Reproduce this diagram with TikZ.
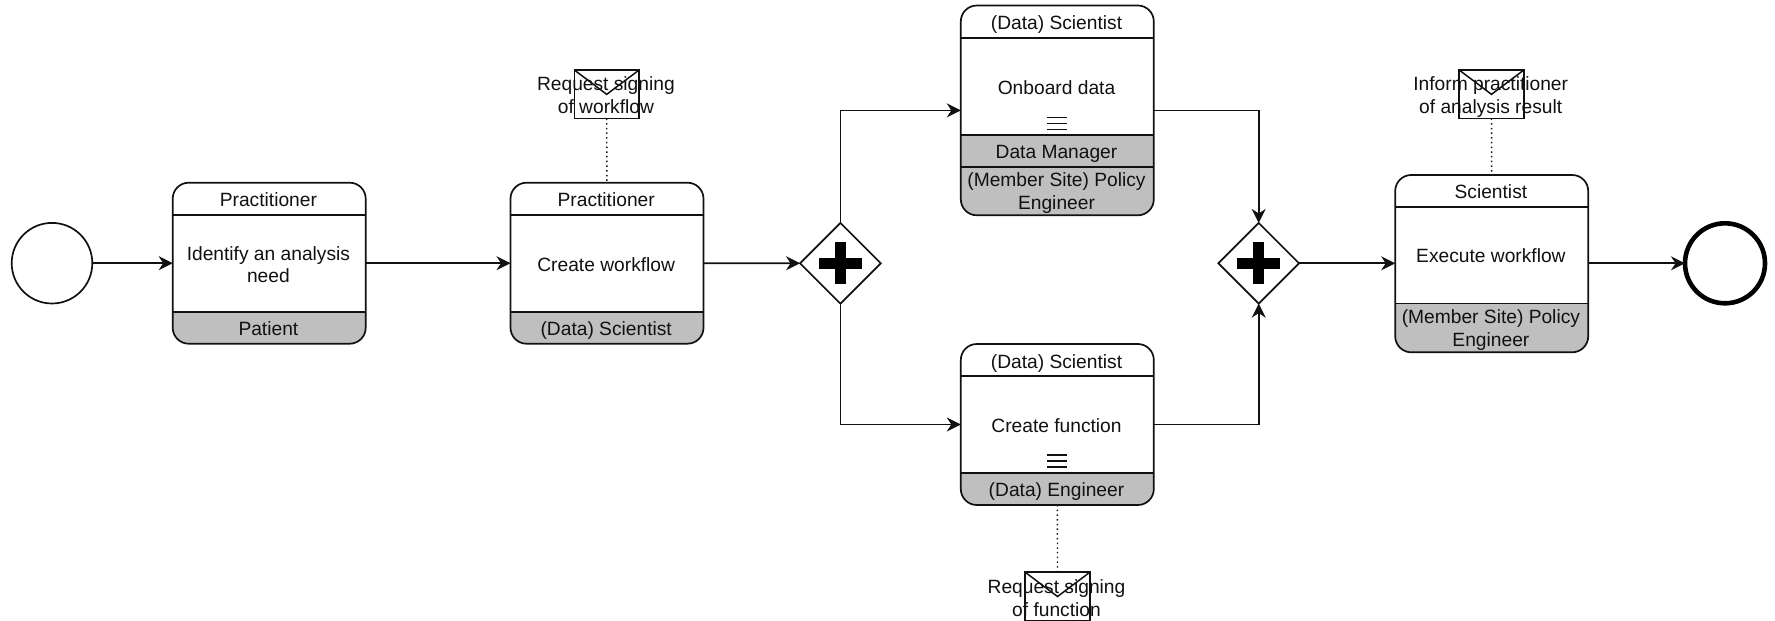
\documentclass[tikz,border=0pt]{standalone}
\usepackage{fontspec}
\setmainfont{Liberation Sans}
\usetikzlibrary{arrows.meta,shapes.geometric,calc}
\definecolor{footgray}{HTML}{BFBFBF}
\definecolor{ink}{HTML}{111111}
\tikzset{
  line/.style={draw=ink,line width=1.7pt},
  flow/.style={line,-{Stealth[length=14pt,width=14pt,inset=4.5pt]},line join=miter},
  assoc/.style={draw=ink,line width=1.4pt,dash pattern=on 1.5pt off 3.2pt},
  label/.style={font=\fontsize{19.2pt}{22.6pt}\selectfont,align=center,inner sep=0pt,outer sep=0pt,text=ink,xshift=-0.8pt},
  taskbox/.style={line,rectangle,rounded corners=16pt,minimum width=193pt,inner sep=0pt,outer sep=0pt},
  gateway/.style={line,diamond,minimum width=80.7pt,minimum height=80.7pt,inner sep=0pt,outer sep=0pt,fill=white},
  plusbar/.style={fill=black,draw=none,rectangle,inner sep=0pt,outer sep=0pt},
  envelope/.style={line,rectangle,minimum width=64.6pt,minimum height=48.3pt,inner sep=0pt,outer sep=0pt},
  startev/.style={line,circle,minimum size=80.6pt,inner sep=0pt,outer sep=0pt},
  endev/.style={draw=black,line width=4.6pt,circle,minimum size=80pt,inner sep=0pt,outer sep=0pt},
}
% #1 name, #2 centre x, #3 top, #4 bottom, #5 header line y, #6 footer line y
\newcommand{\taskshape}[6]{%
  \pgfmathsetmacro{\tcy}{(#3+#4)/2}%
  \pgfmathsetmacro{\thh}{#4-#3}%
  \begin{scope}
    \path[clip,rounded corners=16pt] (#2-96.5,#3) rectangle (#2+96.5,#4);
    \fill[footgray] (#2-96.5,#6) rectangle (#2+96.5,#4);
  \end{scope}
  \node[taskbox,minimum height=\thh pt] (#1) at (#2,\tcy) {};
  \draw[line] (#2-96.5,#5) -- (#2+96.5,#5);
  \draw[line] (#2-96.5,#6) -- (#2+96.5,#6);
}
% #1 name, #2 centre x, #3 centre y
\newcommand{\gatewayshape}[3]{%
  \node[gateway] (#1) at (#2,#3) {};
  \node[plusbar,minimum width=42.5pt,minimum height=11.5pt] (#1h) at (#2,#3) {};
  \node[plusbar,minimum width=11.5pt,minimum height=42pt] (#1v) at (#2,#3) {};
}
% #1 name, #2 centre x, #3 centre y
\newcommand{\envshape}[3]{%
  \node[envelope] (#1) at (#2,#3) {};
  \draw[line,line width=1.5pt] (#1.north west) -- ($(#1.north)+(0,24.3)$) -- (#1.north east);
}
% #1 centre x, #2 y
\newcommand{\loopmarker}[2]{%
  \draw[line,line width=1.2pt] (#1-10,#2) -- (#1+10,#2) (#1-10,#2+6) -- (#1+10,#2+6) (#1-10,#2+12) -- (#1+10,#2+12);
}
\begin{document}
\begin{tikzpicture}[x=1pt,y=-1pt]
\useasboundingbox (0,0) rectangle (1775,621);
\fill[white] (0,0) rectangle (1775,621);

\node[startev] (start) at (52,263.2) {};
\node[endev] (end) at (1725,263.3) {};

\taskshape{t1}{269.2}{182.7}{343.7}{215}{312}
\node[label] (t1a) at (269.2,200) {Practitioner};
\node[label] (t1b) at (269.2,264.5) {Identify an analysis\\need};
\node[label] (t1c) at (269.2,328.5) {Patient};

\taskshape{t2}{607}{182.7}{343.7}{215}{312}
\node[label] (t2a) at (607,200) {Practitioner};
\node[label] (t2b) at (607,265) {Create workflow};
\node[label] (t2c) at (607,330.5) {(Data) Scientist};

\taskshape{t3}{1057.3}{5.5}{215.3}{37.7}{134.7}
\node[label] (t3a) at (1057.3,24.8) {(Data) Scientist};
\node[label] (t3b) at (1057.3,87.5) {Onboard data};
\loopmarker{1057.3}{117.3}
\node[label] (t3c) at (1057.3,153.5) {Data Manager};
\draw[line] (961,166.7) -- (1153.7,166.7);
\node[label] (t3d) at (1057.3,193.3) {(Member Site) Policy\\Engineer};

\taskshape{t4}{1057.3}{344}{505}{375.7}{472.7}
\node[label] (t4a) at (1057.3,363.3) {(Data) Scientist};
\node[label] (t4b) at (1057.3,425.5) {Create function};
\loopmarker{1057.3}{455}
\node[label] (t4c) at (1057.3,491.8) {(Data) Engineer};

\taskshape{t5}{1491.7}{175}{352.3}{207}{303.5}
\node[label] (t5a) at (1491.7,192) {Scientist};
\node[label] (t5b) at (1491.7,256) {Execute workflow};
\node[label] (t5c) at (1491.7,330.3) {(Member Site) Policy\\Engineer};

\gatewayshape{g1}{840.4}{263.3}
\gatewayshape{g2}{1258.7}{263.3}

\envshape{e1}{606.7}{94.2}
\envshape{e2}{1057.5}{596.4}
\envshape{e3}{1491.5}{94.2}
\node[label] (e1t) at (606.7,95) {Request signing\\of workflow};
\node[label] (e2t) at (1057.3,598) {Request signing\\of function};
\node[label] (e3t) at (1491.5,97) {Inform practitioner\\of analysis result};

\draw[flow] (start) -- (t1);
\draw[flow] (t1) -- (t2);
\draw[flow] (t2) -- (g1);
\draw[flow] (g1.north) |- (t3.west);
\draw[flow] (g1.south) |- (t4.west);
\draw[flow] (t3.east) -| (g2.north);
\draw[flow] (t4.east) -| (g2.south);
\draw[flow] (g2) -- (t5.west |- g2);
\draw[flow] (t5.east |- end) -- (end);

\draw[assoc] (e1) -- (t2);
\draw[assoc] (e2) -- (t4);
\draw[assoc] (e3) -- (t5);
\end{tikzpicture}
\end{document}
